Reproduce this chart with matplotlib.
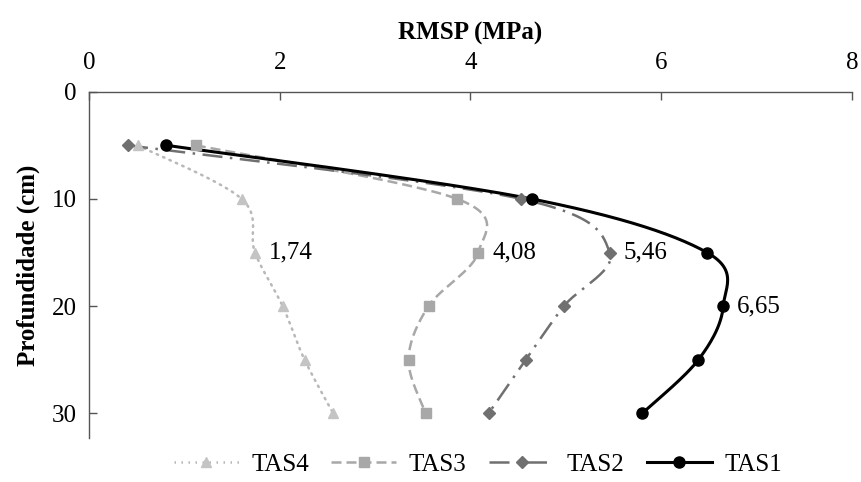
import numpy as np
import matplotlib
matplotlib.use("Agg")
import matplotlib.pyplot as plt
from matplotlib.lines import Line2D

plt.rcParams['font.family'] = ['Liberation Serif', 'DejaVu Serif']

# profundidade (cm) e resistencia mecanica do solo a penetracao (MPa)
prof = [5, 10, 15, 20, 25, 30]
tas1 = [0.81, 4.64, 6.48, 6.65, 6.39, 5.80]
tas2 = [0.41, 4.53, 5.46, 4.98, 4.58, 4.19]
tas3 = [1.12, 3.86, 4.08, 3.56, 3.35, 3.53]
tas4 = [0.51, 1.60, 1.74, 2.03, 2.26, 2.56]
rotulos = ["1,74", "4,08", "5,46", "6,65"]
rot_idx = [2, 2, 2, 3]  # indice da profundidade rotulada em cada serie


def suaviza(ax, xs, ys, n=30):
    # curva de Bezier estilo Excel, calculada em coordenadas de tela
    pts = ax.transData.transform(np.column_stack([xs, ys]))
    p = np.vstack([pts[0], pts, pts[-1]])
    out = []
    t = np.linspace(0, 1, n)[:, None]
    for i in range(1, len(p) - 2):
        p0, p1, p2, p3 = p[i - 1], p[i], p[i + 1], p[i + 2]
        c1 = p1 + (p2 - p0) / 6
        c2 = p2 - (p3 - p1) / 6
        seg = ((1 - t) ** 3) * p1 + 3 * ((1 - t) ** 2) * t * c1 + 3 * (1 - t) * t ** 2 * c2 + t ** 3 * p2
        out.append(seg)
    out = np.vstack(out)
    d = ax.transData.inverted().transform(out)
    return d[:, 0], d[:, 1]


fig = plt.figure(figsize=(8.61, 4.82), dpi=100)
ax = fig.add_axes([0.1034, 0.0913, 0.8861, 0.7185])
ax.set_xlim(0, 8)
ax.set_ylim(32.3, 0)

series = [
    ("TAS4", tas4, "#b8b8b8", (0, (0.6, 2.2)), "^", 1.8, "#c4c4c4"),
    ("TAS3", tas3, "#a8a8a8", (0, (4, 2)), "s", 1.8, "#a8a8a8"),
    ("TAS2", tas2, "#707070", (0, (8, 3, 1, 3)), "D", 1.8, "#707070"),
    ("TAS1", tas1, "#000000", "-", "o", 2.2, "#000000"),
]
msize = {"^": 7.5, "s": 7, "D": 6, "o": 8}

handles = []
for nome, vals, cor, ls, mk, lw, mcor in series:
    cx, cy = suaviza(ax, vals, prof)
    ax.plot(cx, cy, color=cor, linestyle=ls, linewidth=lw, zorder=2,
            dash_capstyle="round" if mk == "^" else "butt")
    ax.plot(vals, prof, linestyle="none", marker=mk, markersize=msize[mk],
            color=mcor, markeredgecolor=mcor, zorder=3)
    handles.append(Line2D([], [], color=cor, linestyle=ls, linewidth=lw,
                          marker=mk, markersize=msize[mk], markerfacecolor=mcor,
                          markeredgecolor=mcor))

for (nome, vals, *_), txt, i in zip(series, rotulos, rot_idx):
    ax.annotate(txt, (vals[i], prof[i]), xytext=(10, 0), textcoords="offset points",
                ha="left", va="center", fontsize=18)

ax.xaxis.tick_top()
ax.xaxis.set_label_position("top")
ax.set_xticks([0, 2, 4, 6, 8])
ax.set_yticks([0, 10, 20, 30])
ax.tick_params(axis="both", direction="in", length=6, width=1, color="#555555",
               labelsize=18)
ax.tick_params(axis="x", pad=13)
ax.tick_params(axis="y", pad=9)
for s in ["right", "bottom"]:
    ax.spines[s].set_visible(False)
for s in ["top", "left"]:
    ax.spines[s].set_color("#555555")
    ax.spines[s].set_linewidth(1)

ax.set_xlabel("RMSP (MPa)", fontsize=18, fontweight="bold", labelpad=9)
ax.set_ylabel("Profundidade (cm)", fontsize=18, fontweight="bold", labelpad=8)

fig.legend(handles, [s[0] for s in series], loc="center", bbox_to_anchor=(0.555, 0.036),
           ncol=4, frameon=False, fontsize=18, handlelength=2.6, handletextpad=0.5,
           columnspacing=0.9, borderpad=0)

fig.savefig("out.png", dpi=100)
